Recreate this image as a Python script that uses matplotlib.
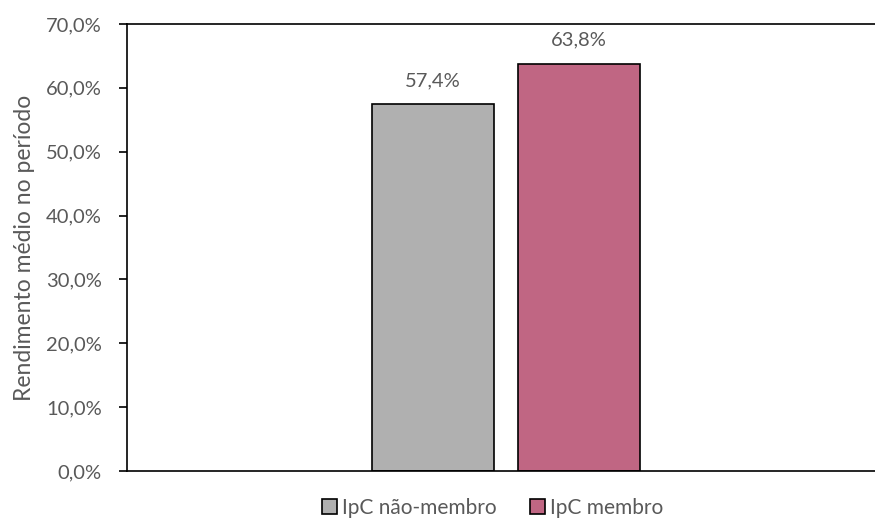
import matplotlib.pyplot as plt
from matplotlib.patches import Patch

series = ['IpC não-membro', 'IpC membro']
valores = [57.4, 63.8]
cores = ['#B0B0B0', '#C06683']
yticks = [0, 10, 20, 30, 40, 50, 60, 70]

plt.rcParams['font.family'] = ['Lato', 'DejaVu Sans']
cinza = '#595959'

fig = plt.figure(figsize=(8.75, 5.18), dpi=100)
ax = fig.add_axes([0.1451, 0.0907, 0.8549, 0.863])

pos = list(range(len(valores)))
barras = ax.bar(pos, valores, width=0.833, color=cores, edgecolor='black', linewidth=1.2)
for b, v in zip(barras, valores):
    ax.annotate(('%.1f%%' % v).replace('.', ','), (b.get_x() + b.get_width() / 2, v),
                xytext=(0, 11), textcoords='offset points', ha='center', va='bottom',
                fontsize=14.5, color=cinza)

ax.set_xlim(-2.09, 3.02)
ax.set_ylim(0, 70)
ax.set_yticks(yticks)
ax.set_yticklabels([('%.1f%%' % t).replace('.', ',') for t in yticks], fontsize=14.5, color=cinza)
ax.set_xticks([])
ax.tick_params(axis='y', direction='out', length=6, width=1.2, pad=12)
ax.spines['right'].set_visible(False)
for s in ['left', 'top', 'bottom']:
    ax.spines[s].set_linewidth(1.2)
ax.set_ylabel('Rendimento médio no período', fontsize=16.5, color=cinza, labelpad=8)

handles = [Patch(facecolor=c, edgecolor='black', linewidth=1.2) for c in cores]
fig.legend(handles, series, loc='center', bbox_to_anchor=(0.563, 0.02), ncol=2, frameon=False,
           fontsize=15, labelcolor=cinza, handlelength=0.7, handleheight=0.7,
           handletextpad=0.25, columnspacing=1.6)

fig.savefig('out.png', dpi=100)
